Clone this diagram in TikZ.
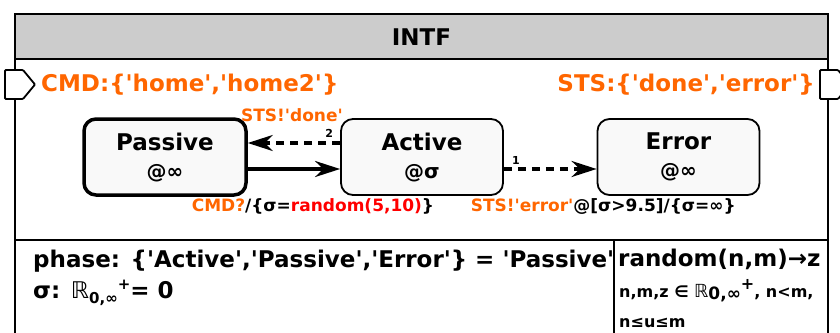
\documentclass[tikz,border=0pt]{standalone}
\usepackage{fontspec}
\setmainfont{DejaVu Sans}
\usepackage{tikz}
\usetikzlibrary{arrows.meta}
\definecolor{portorange}{RGB}{255,102,0}
\definecolor{fnred}{RGB}{255,0,0}
\newcommand{\q}{\textquotesingle}

\begin{document}
\begin{tikzpicture}[x=1pt, y=-1pt, every node/.style={font=\bfseries\fontsize{23}{28}\selectfont, inner sep=0pt},
	phasebox/.style={draw, rounded corners=12pt, fill=gray!5, minimum width=162pt, minimum height=76pt, align=center, line width=1.8pt},
	trlabel/.style={font=\bfseries\fontsize{17}{20}\selectfont, anchor=base},
	prio/.style={font=\bfseries\fontsize{11}{13}\selectfont},
	trarrow/.style={line width=3.2pt, -{Stealth[length=25pt, width=16pt, inset=8pt]}},
	tbdash/.style={dash pattern=on 8pt off 6pt}]
	\useasboundingbox (0,0) rectangle (840,332);
	\draw[line width=2.5pt, fill=white] (15,14) rectangle (828,345);
	\draw[line width=2.5pt, fill=gray!40] (15,14) rectangle (828,59);
	\node (intf) at (421.5,37) {INTF};
	\draw[line width=2.5pt] (15,240) -- (828,240);
	\draw[line width=2.5pt] (614,240) -- (614,345);
	\draw[line width=1.8pt, fill=white, rounded corners=1pt] (5,70) -- (23,70) -- (35,84.5) -- (23,99) -- (5,99) -- cycle;
	\draw[line width=1.8pt, fill=white, rounded corners=1pt] (820,70) -- (838,70) -- (850,84.5) -- (838,99) -- (820,99) -- cycle;
	\node[text=portorange, anchor=base west] (cmd) at (41,91) {CMD:\{\q home\q,\q home2\q\}};
	\node[text=portorange, anchor=base east] (sts) at (815,91) {STS:\{\q done\q,\q error\q\}};
	\node[phasebox, line width=3.5pt] (passive) at (165,157) {Passive\\{\fontsize{20}{28}\selectfont @∞}};
	\node[phasebox] (active) at (422,157) {Active\\{\fontsize{20}{28}\selectfont @σ}};
	\node[phasebox] (error) at (678.5,157) {Error\\{\fontsize{20}{28}\selectfont @∞}};
	\draw[trarrow] ([yshift=-12pt]passive.east) -- ([yshift=-12pt]active.west)
		node[trlabel, midway, yshift=-42pt, xshift=19pt] {\textcolor{portorange}{CMD?}/\{σ=\textcolor{fnred}{random(5,10)}\}};
	\draw[trarrow, tbdash] ([yshift=14pt]active.west) -- ([yshift=14pt]passive.east)
		node[prio, at start, xshift=-11pt, yshift=10pt] {2}
		node[trlabel, midway, yshift=22pt, xshift=-2pt, text=portorange] {STS!\q done\q};
	\draw[trarrow, tbdash] ([yshift=-12pt]active.east) -- ([yshift=-12pt]error.west)
		node[prio, at start, xshift=12pt, yshift=9pt] {1}
		node[trlabel, midway, yshift=-42pt, xshift=53pt] {\textcolor{portorange}{STS!\q error\q}@[σ>9.5]/\{σ=∞\}};
	\node[anchor=base west] (phase) at (33,267) {phase: \{\q Active\q,\q Passive\q,\q Error\q\} = \q Passive\q};
	\node[anchor=base west] (sigma) at (33,298) {σ: {\mdseries ℝ}\raisebox{-5pt}{\fontsize{15}{15}\selectfont 0,∞}\raisebox{9pt}{\fontsize{15}{15}\selectfont +}= 0};
	\node[anchor=base west] (rnd) at (618,266) {random(n,m)→z};
	\node[anchor=base west, font=\bfseries\fontsize{16}{18}\selectfont] (rndsets) at (619,297) {n,m,z ∈ {\mdseries\fontsize{18}{18}\selectfont ℝ}\raisebox{-2pt}{\fontsize{17}{17}\selectfont 0,∞}\raisebox{8pt}{\fontsize{16}{16}\selectfont +}, n<m,};
	\node[anchor=base west, font=\bfseries\fontsize{16}{18}\selectfont] (rndrange) at (619,327) {n≤u≤m};
\end{tikzpicture}
\end{document}
